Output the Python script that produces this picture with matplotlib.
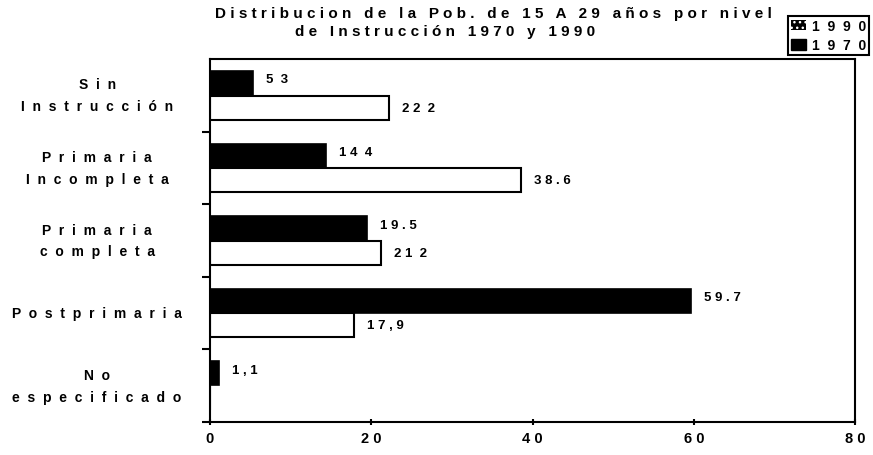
import matplotlib.pyplot as plt
from matplotlib.patches import Patch
from matplotlib.transforms import blended_transform_factory

categorias = ['Sin\nInstrucción', 'Primaria\nIncompleta', 'Primaria\ncompleta',
              'Postprimaria', 'No\nespecificado']

v1970 = [5.3, 14.4, 19.5, 59.7, 1.1]
v1990 = [22.2, 38.6, 21.2, 17.9, 0.0]

etq1970 = ['5  3', '1 4  4', '1 9 . 5', '5 9 . 7', '1 , 1']
etq1990 = ['2 2  2', '3 8 . 6', '2 1  2', '1 7 , 9', '']

titulo1 = 'Distribucion de la Pob. de 15 A 29 años por nivel'
titulo2 = 'de Instrucción 1970 y 1990'


def sp(s, gap=' '):
    # wide letter spacing, like the old scanned chart
    lineas = []
    for linea in s.split('\n'):
        lineas.append(gap.join(list(linea)).replace(gap + ' ' + gap, gap * 3))
    return '\n'.join(lineas)


plt.rcParams['font.family'] = ['Liberation Sans', 'DejaVu Sans']
plt.rcParams['font.weight'] = 'bold'

fig = plt.figure(figsize=(8.73, 4.56), dpi=100)
ax = fig.add_axes([210/873, 1 - 423/456, 645/873, 363/456])

h = 0.33
pos = list(range(len(categorias)))
pos_n = [p - 0.17 for p in pos]
pos_b = [p + 0.17 for p in pos]

ax.barh(pos_n, v1970, height=h, color='black', edgecolor='black', lw=1.2)
ax.barh(pos_b, v1990, height=h, color='white', edgecolor='black', lw=1.5)

for y, v, t in zip(pos_n, v1970, etq1970):
    ax.text(v + 1.6, y - 0.05, t, va='center', ha='left', fontsize=9.5)
for y, v, t in zip(pos_b, v1990, etq1990):
    ax.text(v + 1.6, y, t, va='center', ha='left', fontsize=9.5)

ax.set_xlim(0, 80)
ax.set_ylim(4.5, -0.5)
ax.set_xticks([0, 20, 40, 60, 80])
ax.set_xticklabels(['0', '2 0', '4 0', '6 0', '8 0'], fontsize=10.5)
ax.set_yticks([0.5, 1.5, 2.5, 3.5, 4.5])
ax.set_yticklabels([])
ax.tick_params(axis='y', length=6, width=1.5, direction='out')
ax.tick_params(axis='x', length=5, width=1.5, direction='inout', pad=4)
for s in ax.spines.values():
    s.set_linewidth(1.5)

tr = blended_transform_factory(ax.transAxes, ax.transData)
for y, c in zip(pos, categorias):
    ax.text(-0.175, y, sp(c, '  '), transform=tr, ha='center', va='center',
            multialignment='center', fontsize=10, linespacing=1.7)

ax.text(215/873, 1 - 14/456, sp(titulo1), transform=fig.transFigure,
        ha='left', va='center', fontsize=11)
ax.text(445/873, 1 - 32/456, sp(titulo2), transform=fig.transFigure,
        ha='center', va='center', fontsize=11)

handles = [Patch(facecolor='black', edgecolor='white', hatch='...', lw=0),
           Patch(facecolor='black', edgecolor='black')]
leg = ax.legend(handles, [sp('1990', '  '), sp('1970', '  ')], loc='upper left',
                bbox_to_anchor=(788/873, 1 - 17/456), bbox_transform=fig.transFigure,
                fancybox=False, edgecolor='black', framealpha=1, fontsize=10,
                handlelength=1.1, handleheight=0.8, handletextpad=0.4,
                borderpad=0.2, labelspacing=0.4, borderaxespad=0)
leg.get_frame().set_linewidth(1.5)
leg.set_clip_on(False)

fig.savefig('out.png', dpi=100)
